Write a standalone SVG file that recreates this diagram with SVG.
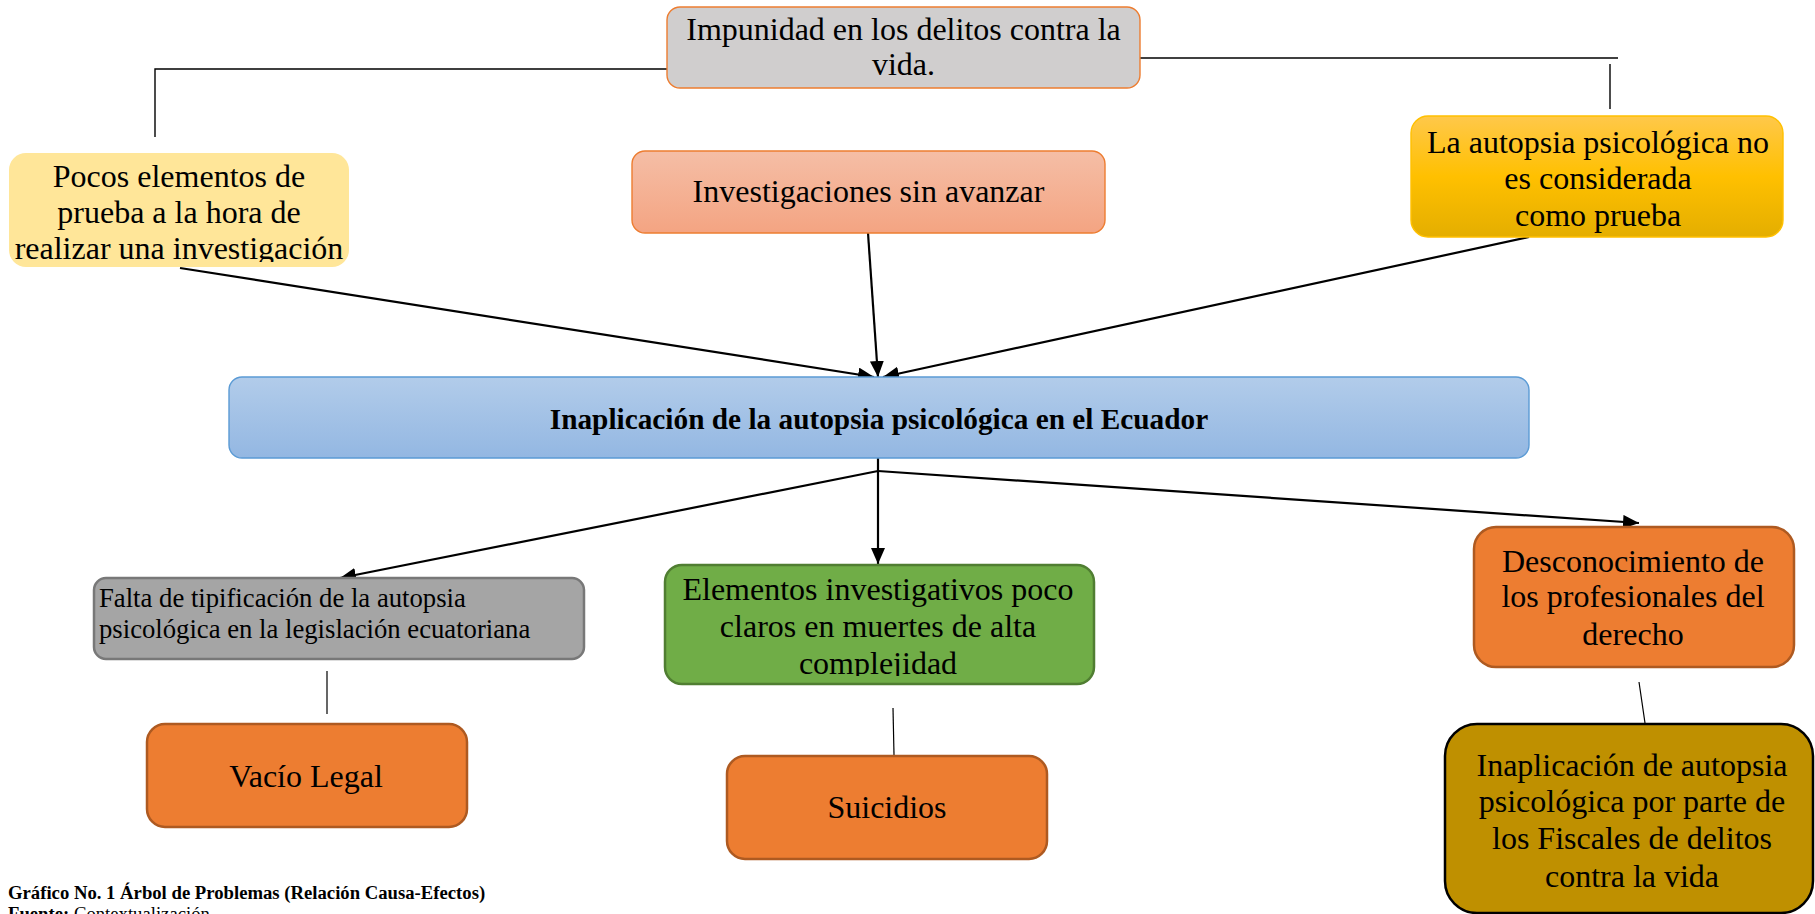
<svg xmlns="http://www.w3.org/2000/svg" width="1815" height="914" viewBox="0 0 1815 914">
<style>
text{font-family:"Liberation Serif","Times New Roman",serif;fill:#000}
.big{font-size:32px;text-anchor:middle}
.core{font-size:29.3px;font-weight:bold;text-anchor:middle}
.small{font-size:26.7px}
.cap{font-size:18.7px}
.conn{stroke:#000;fill:none}
.arrow{stroke-width:2.2}
</style>
<defs>
<linearGradient id="gInv" x1="0" y1="0" x2="0" y2="1"><stop offset="0" stop-color="#F5BEA6"/><stop offset="1" stop-color="#F4A482"/></linearGradient>
<linearGradient id="gGold" x1="0" y1="0" x2="0" y2="1"><stop offset="0" stop-color="#FFC84A"/><stop offset="0.5" stop-color="#FFC000"/><stop offset="1" stop-color="#E4AE00"/></linearGradient>
<linearGradient id="gBlue" x1="0" y1="0" x2="0" y2="1"><stop offset="0" stop-color="#B2CCEA"/><stop offset="1" stop-color="#93B7E2"/></linearGradient>
<marker id="ah" markerUnits="userSpaceOnUse" markerWidth="17" markerHeight="15" refX="16" refY="7" orient="auto"><path d="M0,0 L16,7 L0,14 z" fill="#000"/></marker>
<clipPath id="clipPocos"><rect x="9" y="153" width="340" height="109"/></clipPath>
<clipPath id="clipElem"><rect x="665" y="565" width="429" height="111"/></clipPath>
</defs>

<g id="connectors">
<path class="conn" stroke-width="1.4" d="M667 69 H155 V137"/>
<path class="conn" stroke-width="1.4" d="M1140 58 H1618"/>
<path class="conn" stroke-width="1.4" d="M1610 64 V109"/>
<line class="conn arrow" x1="180" y1="268" x2="874" y2="377" marker-end="url(#ah)"/>
<line class="conn arrow" x1="868" y1="233" x2="878" y2="377" marker-end="url(#ah)"/>
<line class="conn arrow" x1="1529" y1="237" x2="883" y2="377" marker-end="url(#ah)"/>
<path class="conn arrow" d="M878 458 V471"/>
<line class="conn arrow" x1="878" y1="471" x2="340" y2="578" marker-end="url(#ah)"/>
<line class="conn arrow" x1="878" y1="471" x2="878" y2="564" marker-end="url(#ah)"/>
<line class="conn arrow" x1="878" y1="471" x2="1639" y2="523" marker-end="url(#ah)"/>
<line class="conn" stroke-width="1.2" x1="327" y1="671" x2="327" y2="714"/>
<line class="conn" stroke-width="1.2" x1="893" y1="708" x2="894" y2="755"/>
<line class="conn" stroke-width="1.2" x1="1639" y1="682" x2="1645" y2="723"/>
</g>

<g id="impunidad">
<rect x="667" y="7" width="473" height="81" rx="13" fill="#D0CECE" stroke="#ED7D31" stroke-width="1.4"/>
<text class="big" x="903.5" y="40">Impunidad en los delitos contra la</text>
<text class="big" x="903.5" y="75">vida.</text>
</g>

<g id="pocos">
<rect x="9" y="153" width="340" height="114" rx="17" fill="#FFE699"/>
<g clip-path="url(#clipPocos)">
<text class="big" x="179" y="187">Pocos elementos de</text>
<text class="big" x="179" y="223">prueba a la hora de</text>
<text class="big" x="179" y="259">realizar una investigación</text>
</g>
</g>

<g id="investigaciones">
<rect x="632" y="151" width="473" height="82" rx="13" fill="url(#gInv)" stroke="#ED7D31" stroke-width="1.4"/>
<text class="big" x="868.5" y="202">Investigaciones sin avanzar</text>
</g>

<g id="autopsia-no-prueba">
<rect x="1411" y="116" width="372" height="121" rx="17" fill="url(#gGold)" stroke="#FFC000" stroke-width="1.4"/>
<text class="big" x="1598" y="153">La autopsia psicológica no</text>
<text class="big" x="1598" y="189">es considerada</text>
<text class="big" x="1598" y="226">como prueba</text>
</g>

<g id="core">
<rect x="229" y="377" width="1300" height="81" rx="13" fill="url(#gBlue)" stroke="#5B9BD5" stroke-width="1.4"/>
<text class="core" x="879" y="429">Inaplicación de la autopsia psicológica en el Ecuador</text>
</g>

<g id="falta">
<rect x="94" y="578" width="490" height="81" rx="12" fill="#A5A5A5" stroke="#787878" stroke-width="2.5"/>
<text class="small" x="99" y="607">Falta de tipificación de la autopsia</text>
<text class="small" x="99" y="638">psicológica en la legislación ecuatoriana</text>
</g>

<g id="elementos">
<rect x="665" y="565" width="429" height="119" rx="17" fill="#70AD47" stroke="#507E32" stroke-width="2.5"/>
<g clip-path="url(#clipElem)">
<text class="big" x="878" y="600">Elementos investigativos poco</text>
<text class="big" x="878" y="637">claros en muertes de alta</text>
<text class="big" x="878" y="674">complejidad</text>
</g>
</g>

<g id="desconocimiento">
<rect x="1474" y="527" width="320" height="140" rx="22" fill="#ED7D31" stroke="#AE5A21" stroke-width="2.5"/>
<text class="big" x="1633" y="572">Desconocimiento de</text>
<text class="big" x="1633" y="607">los profesionales del</text>
<text class="big" x="1633" y="645">derecho</text>
</g>

<g id="vacio">
<rect x="147" y="724" width="320" height="103" rx="18" fill="#ED7D31" stroke="#AE5A21" stroke-width="2.5"/>
<text class="big" x="306" y="787">Vacío Legal</text>
</g>

<g id="suicidios">
<rect x="727" y="756" width="320" height="103" rx="18" fill="#ED7D31" stroke="#AE5A21" stroke-width="2.5"/>
<text class="big" x="887" y="818">Suicidios</text>
</g>

<g id="inaplicacion-fiscales">
<rect x="1445" y="724" width="368" height="189" rx="32" fill="#BF9000" stroke="#000" stroke-width="2.5"/>
<text class="big" x="1632" y="776">Inaplicación de autopsia</text>
<text class="big" x="1632" y="812">psicológica por parte de</text>
<text class="big" x="1632" y="849">los Fiscales de delitos</text>
<text class="big" x="1632" y="887">contra la vida</text>
</g>

<g id="caption">
<text class="cap" x="8" y="899" font-weight="bold">Gráfico No. 1 Árbol de Problemas (Relación Causa-Efectos)</text>
<text class="cap" x="8" y="920"><tspan font-weight="bold">Fuente:</tspan> Contextualización</text>
</g>
</svg>
